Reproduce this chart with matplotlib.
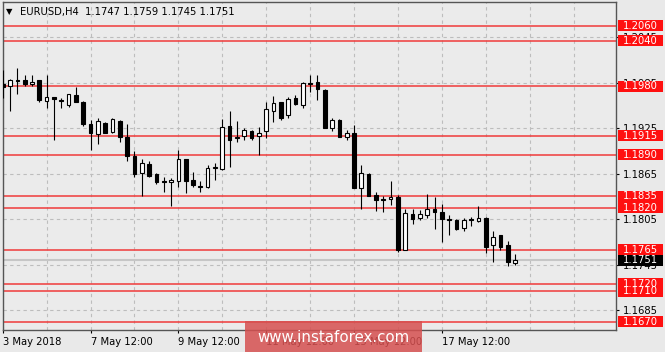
import matplotlib
matplotlib.use("Agg")
import matplotlib.pyplot as plt
import matplotlib.transforms as mtransforms
from matplotlib.patches import Rectangle
import numpy as np

plt.rcParams["font.family"] = ["DejaVu Sans"]

# EURUSD H4 candles
opens = [1.1983, 1.1980, 1.1988, 1.1989, 1.1983, 1.1988, 1.1961, 1.1966, 1.1962, 1.1956,
         1.1969, 1.1960, 1.1930, 1.1917, 1.1932, 1.1920, 1.1935, 1.1914, 1.1888, 1.1866,
         1.1878, 1.1864, 1.1855, 1.1854, 1.1855, 1.1884, 1.1857, 1.1849, 1.1847, 1.1873,
         1.1871, 1.1928, 1.1912, 1.1915, 1.1921, 1.1915, 1.1921, 1.1948, 1.1959, 1.1942,
         1.1965, 1.1955, 1.1984, 1.1986, 1.1975, 1.1925, 1.1936, 1.1914, 1.1918, 1.1846,
         1.1865, 1.1837, 1.1831, 1.1831, 1.1834, 1.1765, 1.1812, 1.1806, 1.1811, 1.1818,
         1.1814, 1.1805, 1.1804, 1.1793, 1.1805, 1.1803, 1.1807, 1.1771, 1.1784, 1.1771,
         1.1747]
highs = [1.2002, 1.1990, 1.2004, 1.1995, 1.1995, 1.1989, 1.1995, 1.1966, 1.1965, 1.1970,
         1.1979, 1.1961, 1.1936, 1.1938, 1.1933, 1.1938, 1.1936, 1.1931, 1.1895, 1.1885,
         1.1882, 1.1866, 1.1860, 1.1859, 1.1896, 1.1885, 1.1867, 1.1855, 1.1876, 1.1879,
         1.1937, 1.1947, 1.1934, 1.1925, 1.1923, 1.1926, 1.1959, 1.1967, 1.1960, 1.1966,
         1.1969, 1.1986, 1.1995, 1.1995, 1.1977, 1.1938, 1.1937, 1.1923, 1.1929, 1.1877,
         1.1866, 1.1841, 1.1836, 1.1855, 1.1837, 1.1819, 1.1818, 1.1817, 1.1838, 1.1834,
         1.1825, 1.1811, 1.1805, 1.1806, 1.1808, 1.1822, 1.1808, 1.1790, 1.1784, 1.1776,
         1.1759]
lows = [1.1965, 1.1947, 1.1970, 1.1980, 1.1981, 1.1959, 1.1952, 1.1909, 1.1952, 1.1953,
        1.1959, 1.1928, 1.1896, 1.1904, 1.1918, 1.1919, 1.1907, 1.1882, 1.1860, 1.1836,
        1.1860, 1.1852, 1.1841, 1.1822, 1.1848, 1.1840, 1.1847, 1.1841, 1.1846, 1.1857,
        1.1870, 1.1874, 1.1907, 1.1909, 1.1909, 1.1889, 1.1912, 1.1933, 1.1936, 1.1938,
        1.1956, 1.1951, 1.1973, 1.1962, 1.1925, 1.1921, 1.1913, 1.1909, 1.1846, 1.1819,
        1.1835, 1.1816, 1.1815, 1.1824, 1.1762, 1.1765, 1.1799, 1.1804, 1.1806, 1.1792,
        1.1775, 1.1784, 1.1791, 1.1789, 1.1796, 1.1802, 1.1760, 1.1749, 1.1765, 1.1743,
        1.1745]
closes = [1.1979, 1.1989, 1.1987, 1.1983, 1.1986, 1.1962, 1.1966, 1.1963, 1.1961, 1.1970,
          1.1960, 1.1930, 1.1918, 1.1934, 1.1919, 1.1937, 1.1914, 1.1888, 1.1864, 1.1879,
          1.1862, 1.1854, 1.1854, 1.1857, 1.1885, 1.1855, 1.1850, 1.1848, 1.1872, 1.1874,
          1.1926, 1.1910, 1.1914, 1.1923, 1.1912, 1.1919, 1.1950, 1.1958, 1.1939, 1.1964,
          1.1957, 1.1984, 1.1983, 1.1977, 1.1925, 1.1936, 1.1914, 1.1919, 1.1846, 1.1866,
          1.1836, 1.1830, 1.1830, 1.1834, 1.1765, 1.1813, 1.1805, 1.1812, 1.1818, 1.1814,
          1.1805, 1.1804, 1.1792, 1.1804, 1.1804, 1.1806, 1.1769, 1.1782, 1.1768, 1.1749,
          1.1751]

# horizontal levels (ascending, so 1.1720 is drawn over 1.1710)
levels = [1.1670, 1.1710, 1.1720, 1.1765, 1.1820, 1.1835, 1.1890, 1.1915, 1.1980, 1.2040, 1.2060]
last_price = 1.1751

price_ticks = [1.2045, 1.1985, 1.1925, 1.1865, 1.1805, 1.1745, 1.1685]
date_ticks = [0, 12, 24, 36, 48, 60]
date_labels = ["3 May 2018", "7 May 12:00", "9 May 12:00", "11 May 12:00",
               "15 May 12:00", "17 May 12:00"]
title = "EURUSD,H4  1.1747 1.1759 1.1745 1.1751"

W, H = 665, 352
BG = "#e9e9e9"
fig = plt.figure(figsize=(W / 100, H / 100), dpi=100, facecolor=BG)
ax = fig.add_axes([2.5 / W, 1 - 330 / H, 613.5 / W, 328 / H], facecolor="#ebebeb")

y_lo, y_hi = 1.16590, 1.20913
ax.set_ylim(y_lo, y_hi)
ax.set_xlim(-0.03, 83.8)
px = (y_hi - y_lo) / 328.0  # price per pixel

# grid
for gx in np.arange(0, 84, 6):
    ax.axvline(gx, color="#bdbdbd", lw=0.8, ls=(0, (3, 3)), zorder=1)
for gy in price_ticks:
    ax.axhline(gy, color="#bdbdbd", lw=0.8, ls=(0, (3, 3)), zorder=1)

# bid line
ax.axhline(last_price, color="#c6c6c6", lw=1.5, zorder=1)

# levels
for lv in levels:
    ax.axhline(lv, color="#f03a3a", lw=1.1, zorder=2)

# candles
o = np.array(opens); h = np.array(highs); l = np.array(lows); c = np.array(closes)
x = np.arange(len(o))
up = c >= o
ax.vlines(x, l, h, color="black", lw=0.8, zorder=3)
bottom = np.minimum(o, c)
height = np.abs(c - o)
ax.bar(x[up], height[up], 0.5, bottom=bottom[up], color="white", edgecolor="black", lw=0.8, zorder=4)
ax.bar(x[~up], height[~up], 0.5, bottom=bottom[~up], color="black", edgecolor="black", lw=0.8, zorder=4)

# axes styling
for s in ax.spines.values():
    s.set_color("#555555")
    s.set_linewidth(1)
ax.yaxis.tick_right()
ax.set_yticks(price_ticks)
ax.set_yticklabels([f"{v:.4f}" for v in price_ticks])
ax.tick_params(axis="y", length=2.2, width=0.8, pad=2.8, labelsize=7.2, colors="black")
ax.set_xticks(date_ticks)
ax.set_xticklabels(date_labels)
ax.tick_params(axis="x", length=2.2, width=0.8, pad=2.5, labelsize=7.2, colors="black")
for lab in ax.get_xticklabels():
    lab.set_horizontalalignment("left")

# price boxes on the right
bt = mtransforms.blended_transform_factory(fig.transFigure, ax.transData)
bh = 11 * px
for lv in levels:
    fig.add_artist(Rectangle((618 / W, lv - bh / 2), 45 / W, bh, transform=bt,
                             facecolor="#ff1010", edgecolor="none", zorder=5))
    fig.text(640.5 / W, lv, f"{lv:.4f}", transform=bt, color="white", fontsize=7.2,
             ha="center", va="center", zorder=6)
fig.add_artist(Rectangle((618 / W, last_price - bh / 2), 45 / W, bh, transform=bt,
                         facecolor="black", edgecolor="none", zorder=5))
fig.text(640.5 / W, last_price, f"{last_price:.4f}", transform=bt, color="white",
         fontsize=7.2, ha="center", va="center", zorder=6)

# title
fig.text(6 / W, 1 - 12 / H, "\u25bc", fontsize=6, ha="left", va="center")
fig.text(20 / W, 1 - 12 / H, title, fontsize=7.2, ha="left", va="center")

# watermark
fig.add_artist(Rectangle((245 / W, 0), 177 / W, 31 / H, transform=fig.transFigure,
                         facecolor="#d65050", edgecolor="none", alpha=0.85, zorder=7))
fig.text(333 / W, 1 - 337 / H, "www.instaforex.com", fontsize=10.8, color="white",
         ha="center", va="center", zorder=8)

fig.savefig("out.png", dpi=100, facecolor=BG)
